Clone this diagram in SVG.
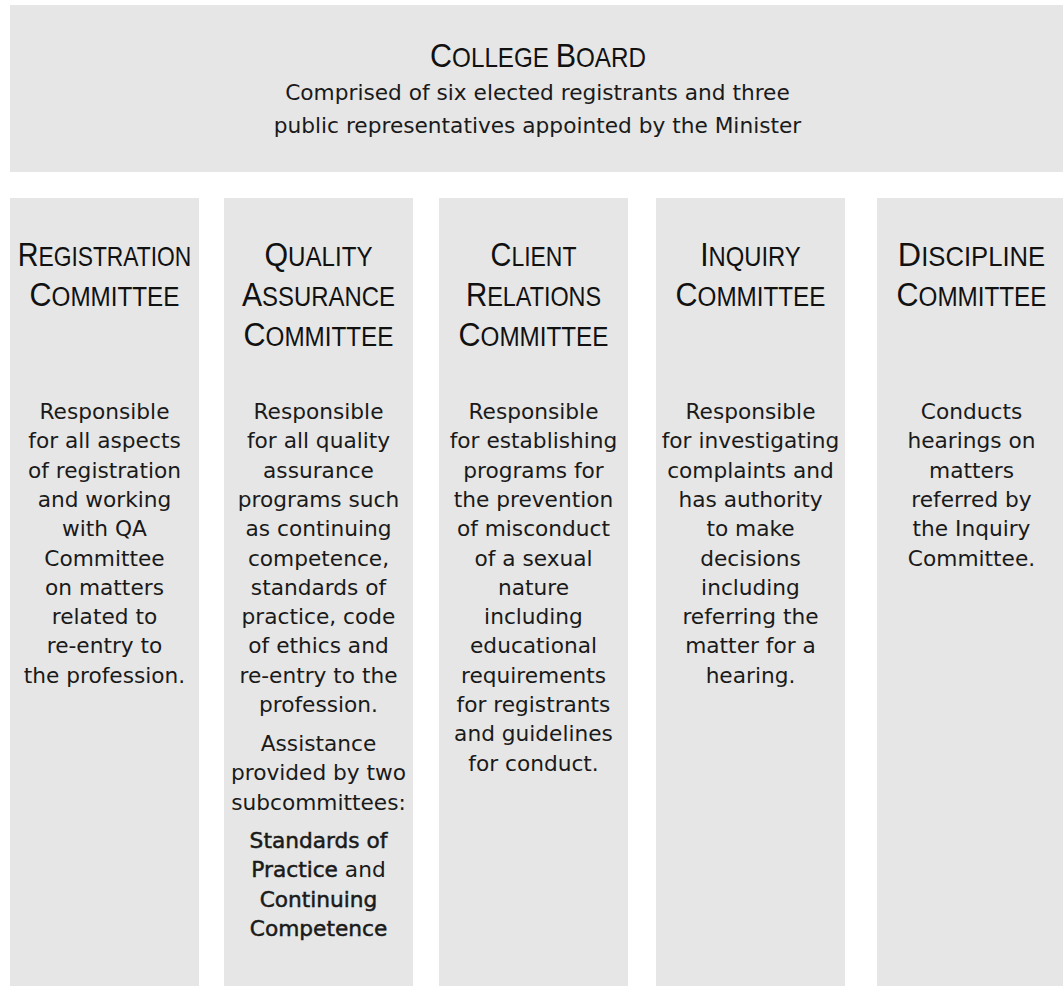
<svg xmlns="http://www.w3.org/2000/svg" width="1063" height="986" viewBox="0 0 1063 986">
<style>
.box{fill:#e6e6e6}
.hd{font-family:"Liberation Sans",Arial,sans-serif;fill:#111;text-anchor:middle}
.big{font-size:34px}
.sm{font-size:27px}
.tx{font-family:"DejaVu Sans",Verdana,sans-serif;font-size:21.7px;fill:#1a1a1a;text-anchor:middle}
.b{stroke:#1a1a1a;stroke-width:0.5}
</style>
<rect width="1063" height="986" fill="#fff"/>
<g id="board">
<rect class="box" x="10" y="5" width="1056" height="167"/>
<text class="hd" transform="translate(538,67) scale(0.897,1)"><tspan class="big">C</tspan><tspan class="sm">OLLEGE </tspan><tspan class="big">B</tspan><tspan class="sm">OARD</tspan></text>
<text class="tx" x="537.5" y="100">Comprised of six elected registrants and three</text>
<text class="tx" x="537.5" y="133.3">public representatives appointed by the Minister</text>
</g>
<g id="registration">
<rect class="box" x="10" y="198" width="189" height="788"/>
<text class="hd" transform="translate(104.5,266) scale(0.845,1)"><tspan class="big">R</tspan><tspan class="sm">EGISTRATION</tspan></text>
<text class="hd" transform="translate(104.5,306) scale(0.898,1)"><tspan class="big">C</tspan><tspan class="sm">OMMITTEE</tspan></text>
<text class="tx" x="104.5" y="419"><tspan x="104.5" dy="0">Responsible</tspan><tspan x="104.5" dy="29.3">for all aspects</tspan><tspan x="104.5" dy="29.3">of registration</tspan><tspan x="104.5" dy="29.3">and working</tspan><tspan x="104.5" dy="29.3">with QA</tspan><tspan x="104.5" dy="29.3">Committee</tspan><tspan x="104.5" dy="29.3">on matters</tspan><tspan x="104.5" dy="29.3">related to</tspan><tspan x="104.5" dy="29.3">re-entry to</tspan><tspan x="104.5" dy="29.3">the profession.</tspan></text>
</g>
<g id="quality">
<rect class="box" x="224" y="198" width="189" height="788"/>
<text class="hd" transform="translate(318.5,266) scale(0.893,1)"><tspan class="big">Q</tspan><tspan class="sm">UALITY</tspan></text>
<text class="hd" transform="translate(318.5,306) scale(0.886,1)"><tspan class="big">A</tspan><tspan class="sm">SSURANCE</tspan></text>
<text class="hd" transform="translate(318.5,346) scale(0.898,1)"><tspan class="big">C</tspan><tspan class="sm">OMMITTEE</tspan></text>
<text class="tx" x="318.5" y="419"><tspan x="318.5" dy="0">Responsible</tspan><tspan x="318.5" dy="29.3">for all quality</tspan><tspan x="318.5" dy="29.3">assurance</tspan><tspan x="318.5" dy="29.3">programs such</tspan><tspan x="318.5" dy="29.3">as continuing</tspan><tspan x="318.5" dy="29.3">competence,</tspan><tspan x="318.5" dy="29.3">standards of</tspan><tspan x="318.5" dy="29.3">practice, code</tspan><tspan x="318.5" dy="29.3">of ethics and</tspan><tspan x="318.5" dy="29.3">re-entry to the</tspan><tspan x="318.5" dy="29.3">profession.</tspan></text>
<text class="tx" x="318.5" y="751"><tspan x="318.5" dy="0">Assistance</tspan><tspan x="318.5" dy="29.3">provided by two</tspan><tspan x="318.5" dy="29.3">subcommittees:</tspan></text>
<text class="tx" x="318.5" y="848"><tspan x="318.5" dy="0" class="b">Standards of</tspan><tspan x="318.5" dy="29.3"><tspan class="b">Practice</tspan> and</tspan><tspan x="318.5" dy="29.3" class="b">Continuing</tspan><tspan x="318.5" dy="29.3" class="b">Competence</tspan></text>
</g>
<g id="client">
<rect class="box" x="439" y="198" width="189" height="788"/>
<text class="hd" transform="translate(533.5,266) scale(0.851,1)"><tspan class="big">C</tspan><tspan class="sm">LIENT</tspan></text>
<text class="hd" transform="translate(533.5,306) scale(0.867,1)"><tspan class="big">R</tspan><tspan class="sm">ELATIONS</tspan></text>
<text class="hd" transform="translate(533.5,346) scale(0.898,1)"><tspan class="big">C</tspan><tspan class="sm">OMMITTEE</tspan></text>
<text class="tx" x="533.5" y="419"><tspan x="533.5" dy="0">Responsible</tspan><tspan x="533.5" dy="29.3">for establishing</tspan><tspan x="533.5" dy="29.3">programs for</tspan><tspan x="533.5" dy="29.3">the prevention</tspan><tspan x="533.5" dy="29.3">of misconduct</tspan><tspan x="533.5" dy="29.3">of a sexual</tspan><tspan x="533.5" dy="29.3">nature</tspan><tspan x="533.5" dy="29.3">including</tspan><tspan x="533.5" dy="29.3">educational</tspan><tspan x="533.5" dy="29.3">requirements</tspan><tspan x="533.5" dy="29.3">for registrants</tspan><tspan x="533.5" dy="29.3">and guidelines</tspan><tspan x="533.5" dy="29.3">for conduct.</tspan></text>
</g>
<g id="inquiry">
<rect class="box" x="656" y="198" width="189" height="788"/>
<text class="hd" transform="translate(750.5,266) scale(0.882,1)"><tspan class="big">I</tspan><tspan class="sm">NQUIRY</tspan></text>
<text class="hd" transform="translate(750.5,306) scale(0.898,1)"><tspan class="big">C</tspan><tspan class="sm">OMMITTEE</tspan></text>
<text class="tx" x="750.5" y="419"><tspan x="750.5" dy="0">Responsible</tspan><tspan x="750.5" dy="29.3">for investigating</tspan><tspan x="750.5" dy="29.3">complaints and</tspan><tspan x="750.5" dy="29.3">has authority</tspan><tspan x="750.5" dy="29.3">to make</tspan><tspan x="750.5" dy="29.3">decisions</tspan><tspan x="750.5" dy="29.3">including</tspan><tspan x="750.5" dy="29.3">referring the</tspan><tspan x="750.5" dy="29.3">matter for a</tspan><tspan x="750.5" dy="29.3">hearing.</tspan></text>
</g>
<g id="discipline">
<rect class="box" x="877" y="198" width="189" height="788"/>
<text class="hd" transform="translate(971.5,266) scale(0.95,1)"><tspan class="big">D</tspan><tspan class="sm">ISCIPLINE</tspan></text>
<text class="hd" transform="translate(971.5,306) scale(0.898,1)"><tspan class="big">C</tspan><tspan class="sm">OMMITTEE</tspan></text>
<text class="tx" x="971.5" y="419"><tspan x="971.5" dy="0">Conducts</tspan><tspan x="971.5" dy="29.3">hearings on</tspan><tspan x="971.5" dy="29.3">matters</tspan><tspan x="971.5" dy="29.3">referred by</tspan><tspan x="971.5" dy="29.3">the Inquiry</tspan><tspan x="971.5" dy="29.3">Committee.</tspan></text>
</g>
<g id="connectors"/>
</svg>
